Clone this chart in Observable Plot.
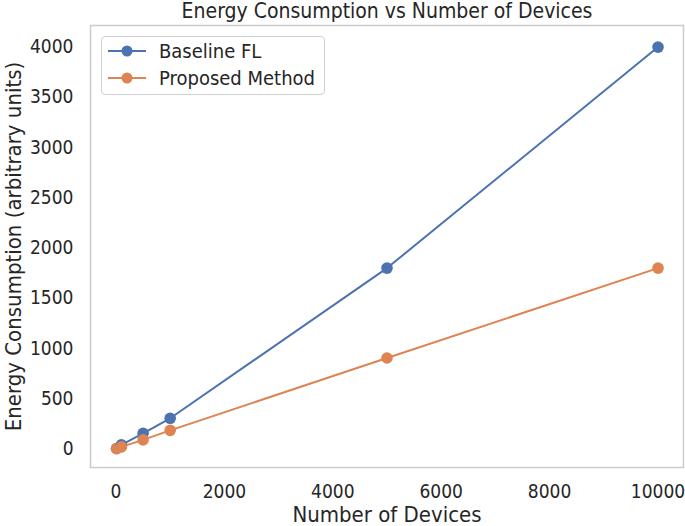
<!DOCTYPE html>
<html>
<head>
<meta charset="utf-8">
<script src="https://cdn.jsdelivr.net/npm/d3@7"></script>
<script src="https://cdn.jsdelivr.net/npm/@observablehq/plot@0.6"></script>
<style>
  html, body { margin: 0; padding: 0; background: #fff; }
  #wrap { position: relative; width: 685px; height: 526px; font-family: "DejaVu Sans Condensed", "DejaVu Sans", sans-serif; color: #262626; }
  #legend { position: absolute; left: 101px; top: 36px; width: 224px; height: 59px; border: 1px solid #d0d0d0; border-radius: 4px; background: rgba(255,255,255,0.85); box-sizing: border-box; }
  .item { position: absolute; left: 5px; height: 20px; display: flex; align-items: center; font-size: 20px; white-space: nowrap; }
  .item svg { margin-right: 12px; flex: none; }
</style>
</head>
<body>
<div id="wrap"></div>
<script>
const devices = [10, 100, 500, 1000, 5000, 10000];
const baseline = [4, 40, 155, 305, 1800, 4000];
const proposed = [2, 20, 90, 185, 905, 1800];
const seriesNames = ["Baseline FL", "Proposed Method"];
const seriesColors = ["#4C72B0", "#DD8452"];
const xTicks = [0, 2000, 4000, 6000, 8000, 10000];
const yTicks = [0, 500, 1000, 1500, 2000, 2500, 3000, 3500, 4000];
const title = "Energy Consumption vs Number of Devices";
const xLabel = "Number of Devices";
const yLabel = "Energy Consumption (arbitrary units)";

const data = [];
devices.forEach((d, i) => {
  data.push({series: seriesNames[0], x: d, y: baseline[i]});
  data.push({series: seriesNames[1], x: d, y: proposed[i]});
});

const font = '"DejaVu Sans Condensed", "DejaVu Sans", sans-serif';
const plot = Plot.plot({
  width: 685,
  height: 526,
  marginLeft: 90,
  marginRight: 2,
  marginTop: 25,
  marginBottom: 59,
  style: {fontFamily: font, fontSize: "19px", color: "#262626", background: "white"},
  x: {domain: [-470, 10470], ticks: xTicks},
  y: {domain: [-185, 4215], ticks: yTicks},
  color: {domain: seriesNames, range: seriesColors},
  marks: [
    Plot.frame({stroke: "#cccccc", strokeWidth: 1.5}),
    Plot.axisX({ticks: xTicks, tickSize: 0, tickPadding: 17, fontSize: 19, tickFormat: d => String(d), label: null}),
    Plot.axisY({ticks: yTicks, tickSize: 0, tickPadding: 17, fontSize: 19, tickFormat: d => String(d), label: null}),
    Plot.line(data, {x: "x", y: "y", z: "series", stroke: "series", strokeWidth: 2}),
    Plot.dot(data, {x: "x", y: "y", fill: "series", r: 5.8}),
    Plot.text([title], {text: d => d, frameAnchor: "top", lineAnchor: "middle", textAnchor: "middle", dy: -14, fontSize: 21, fill: "#262626"}),
    Plot.text([xLabel], {text: d => d, frameAnchor: "bottom", lineAnchor: "middle", textAnchor: "middle", dy: 47.5, fontSize: 22, fill: "#262626"}),
    Plot.text([yLabel], {text: d => d, frameAnchor: "left", lineAnchor: "middle", textAnchor: "middle", dx: -77, rotate: -90, fontSize: 22, fill: "#262626"})
  ]
});
document.getElementById("wrap").appendChild(plot);

// legend
const legend = document.createElement("div");
legend.id = "legend";
seriesNames.forEach((name, i) => {
  const item = document.createElement("div");
  item.className = "item";
  item.style.top = (4 + i * 27) + "px";
  item.innerHTML = `<svg width="40" height="20"><line x1="1" x2="39" y1="10" y2="10" stroke="${seriesColors[i]}" stroke-width="2"/><circle cx="20" cy="10" r="5.5" fill="${seriesColors[i]}"/></svg><span>${name}</span>`;
  legend.appendChild(item);
});
document.getElementById("wrap").appendChild(legend);
</script>
</body>
</html>
